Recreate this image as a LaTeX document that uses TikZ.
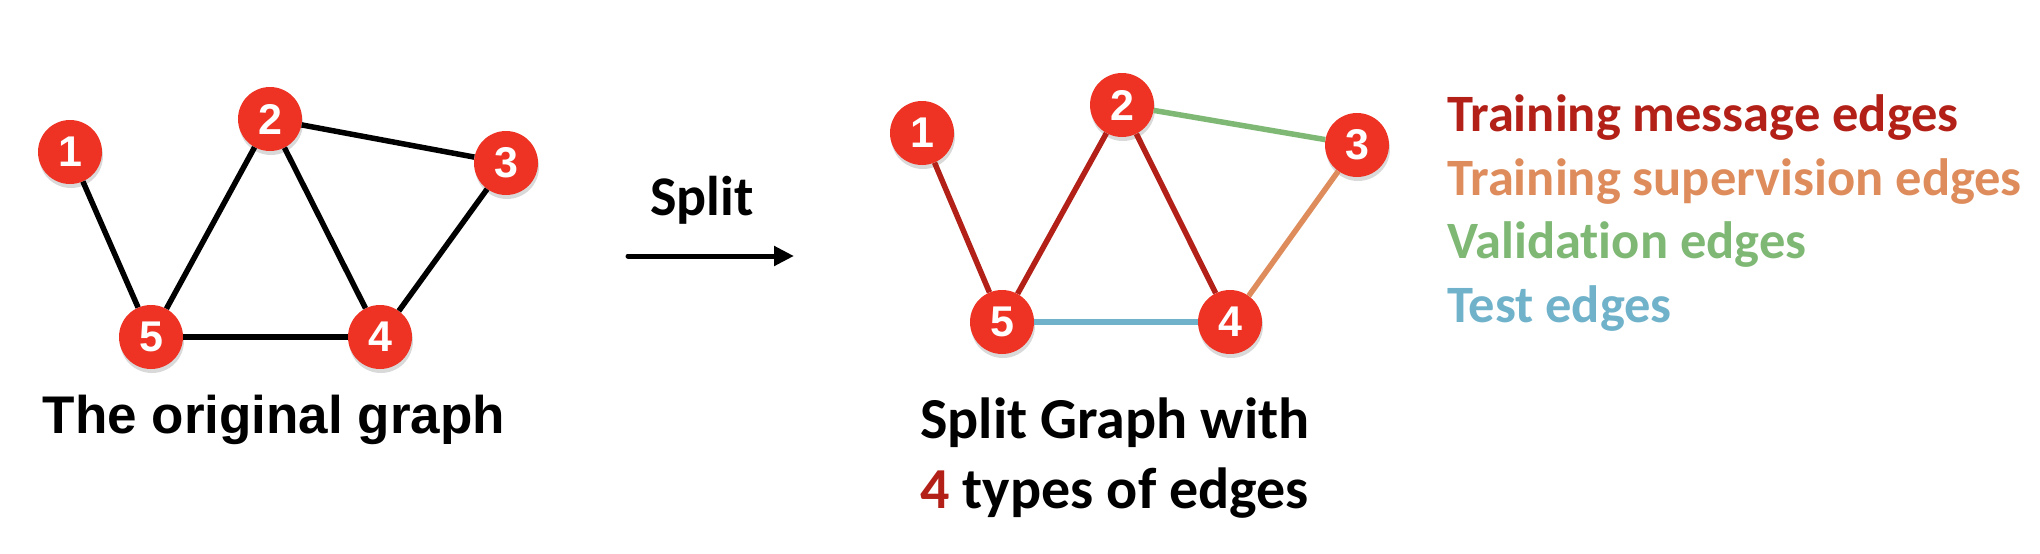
\documentclass[tikz,border=0pt]{standalone}
\usepackage{fontspec}
\setmainfont{Carlito}[Ligatures=NoCommon]
\newfontfamily\arialfont{Liberation Sans}
\usetikzlibrary{shadows,arrows.meta}

\definecolor{vertexred}{RGB}{238,50,36}
\definecolor{msgred}{RGB}{178,32,24}
\definecolor{superorange}{RGB}{222,140,92}
\definecolor{validgreen}{RGB}{126,184,116}
\definecolor{testblue}{RGB}{112,178,202}

\tikzset{
  vertex/.style={circle,fill=vertexred,minimum size=64pt,inner sep=0pt,text=white,
    font=\arialfont\bfseries\fontsize{43}{43}\selectfont,
    drop shadow={opacity=0.3,shadow xshift=1pt,shadow yshift=-4pt}},
  edge/.style={line width=5.5pt},
  caption/.style={font=\bfseries\fontsize{58}{70}\selectfont,anchor=base west,inner sep=0pt},
  legend/.style={font=\bfseries\fontsize{52.5}{60}\selectfont,anchor=base west,inner sep=0pt}
}

\begin{document}
\begin{tikzpicture}[x=1pt,y=-1pt]
      \useasboundingbox (0,0) rectangle (2040,554);
      % original graph
      \draw
        (70, 152) node[vertex] (a1){1}
        (270, 119) node[vertex] (a2){2}
        (506, 163) node[vertex] (a3){3}
        (380, 337) node[vertex] (a4){4}
        (151, 337) node[vertex] (a5){5};
      \begin{scope}[edge]
        \draw (a1) -- (a5);
        \draw (a5) -- (a2);
        \draw (a2) -- (a4);
        \draw (a2) -- (a3);
        \draw (a3) -- (a4);
        \draw (a5) -- (a4);
      \end{scope}
      \node[font=\arialfont\bfseries\fontsize{53}{60}\selectfont,anchor=base,inner sep=0pt] (orig) at (274, 433) {The original graph};

      % split arrow
      \coordinate (from) at (628, 256);
      \coordinate (to) at (794, 256);
      \draw[line width=5pt,line cap=round,-{Triangle[length=20pt,width=19pt]}] (from) -- (to);
      \node[font=\bfseries\fontsize{56}{60}\selectfont,anchor=base,inner sep=0pt] (split) at (702, 215) {Split};

      % split graph
      \draw
        (922, 133) node[vertex] (b1){1}
        (1122, 105) node[vertex] (b2){2}
        (1357, 145) node[vertex] (b3){3}
        (1230, 322) node[vertex] (b4){4}
        (1002, 322) node[vertex] (b5){5};
      \begin{scope}[edge]
        \draw[msgred] (b1) -- (b5);
        \draw[msgred] (b5) -- (b2);
        \draw[msgred] (b2) -- (b4);
        \draw[validgreen] (b2) -- (b3);
        \draw[superorange] (b3) -- (b4);
        \draw[testblue] (b5) -- (b4);
      \end{scope}
      \node[caption] (cap1) at (920, 438) {Split Graph with};
      \node[caption] (cap2) at (920, 508) {\textcolor{msgred}{4} types of edges};

      % legend
      \node[legend,text=msgred] (l1) at (1447, 131) {Training message edges};
      \node[legend,text=superorange] (l2) at (1447, 195) {Training supervision edges};
      \node[legend,text=validgreen] (l3) at (1447, 258) {Validation edges};
      \node[legend,text=testblue] (l4) at (1447, 322) {Test edges};
    \end{tikzpicture}
\end{document}
